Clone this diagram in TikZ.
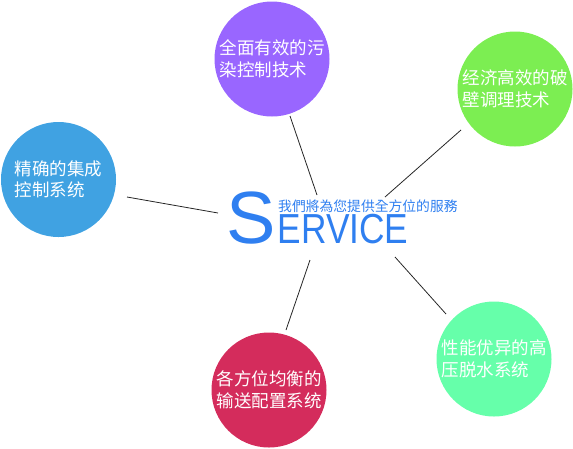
\documentclass[tikz,border=0pt]{standalone}
\usepackage{fontspec}
\usepackage{graphicx}
\setmainfont{Liberation Sans}
\newfontfamily\cjksc{Noto Sans CJK SC}
\newfontfamily\cjktc{Noto Sans CJK TC}
\definecolor{cpurple}{HTML}{9966FF}
\definecolor{cgreen}{HTML}{7CEE52}
\definecolor{cblue}{HTML}{40A2E2}
\definecolor{cred}{HTML}{D42C5C}
\definecolor{cteal}{HTML}{66FFAA}
\definecolor{svcblue}{HTML}{2F7FF0}
\begin{document}
\begin{tikzpicture}[x=1pt,y=-1pt,
  bubble/.style={circle,inner sep=0pt,minimum size=115pt,draw=none,text=white,
    align=left,font=\cjksc\fontsize{17.5}{21.5}\selectfont},
  link/.style={draw=black!85,line width=0.8pt}]
\useasboundingbox (0,0) rectangle (573,448);
% circles
\node[bubble,fill=cpurple] (purple) at (272,59) {全面有效的污\\染控制技术\phantom{术}};
\node[bubble,fill=cgreen] (green) at (515,89) {经济高效的破\\壁调理技术\phantom{术}};
\node[bubble,fill=cblue] (blue) at (58.5,179.5) {精确的集成\\控制系统\phantom{统}};
\node[bubble,fill=cred] (red) at (269,390) {各方位均衡的\\输送配置系统};
\node[bubble,fill=cteal] (teal) at (494,359) {性能优异的高\\压脱水系统\phantom{统}};
% center
\node[anchor=base west,inner sep=0pt,text=svcblue,text height=53pt,text depth=1pt,font=\fontsize{74}{74}\selectfont] (S) at (226,243) {S};
\node[anchor=base west,inner sep=0pt,text=svcblue,text height=29.5pt,text depth=0pt,font=\fontsize{42}{42}\selectfont] (ervice) at (277.5,243) {\scalebox{0.84}[1]{ERVICE}};
\node[anchor=west,inner sep=0pt,text=svcblue,text height=11pt,text depth=1pt,font=\cjktc\fontsize{13.8}{14}\selectfont] (slogan) at (278,206) {我們將為您提供全方位的服務};
% connector end points
\coordinate (purple-a) at (290,116);
\coordinate (purple-b) at (317,195);
\coordinate (green-a) at (461,130);
\coordinate (green-b) at (385,197);
\coordinate (blue-a) at (127,197);
\coordinate (blue-b) at (218,213);
\coordinate (red-a) at (310,260);
\coordinate (red-b) at (286,330);
\coordinate (teal-a) at (395,257);
\coordinate (teal-b) at (446,314);
\draw[link] (purple-a) -- (purple-b);
\draw[link] (green-a) -- (green-b);
\draw[link] (blue-a) -- (blue-b);
\draw[link] (red-a) -- (red-b);
\draw[link] (teal-a) -- (teal-b);
\end{tikzpicture}
\end{document}
